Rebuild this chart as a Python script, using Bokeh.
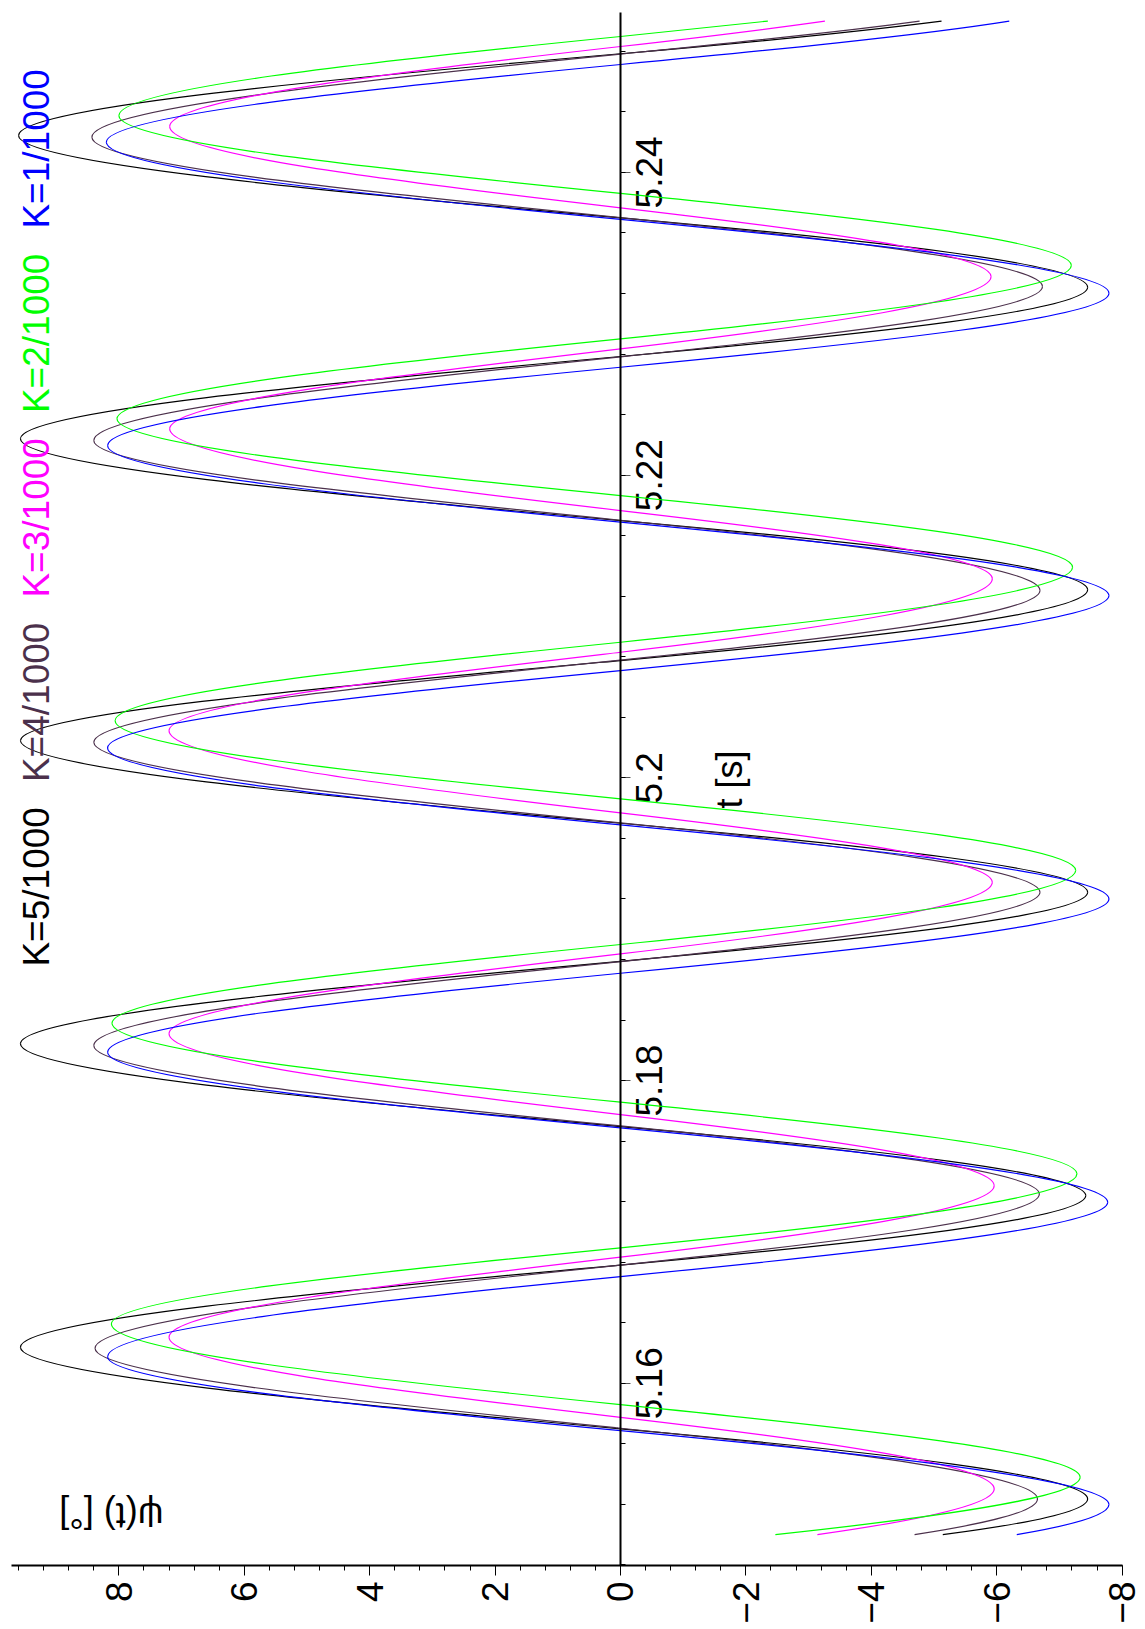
import math
from bokeh.plotting import figure
from bokeh.models import Range1d, LinearAxis, FixedTicker
from bokeh.core.properties import value
from bokeh.embed import file_html
from bokeh.resources import INLINE

# ---------------- data ----------------
T_START = 5.15
T_END = 5.25

series_names = ["K=5/1000", "K=4/1000", "K=3/1000", "K=2/1000", "K=1/1000"]
series_colors = ["#000000", "#4B304B", "#FF00FF", "#00FF00", "#0000FF"]

# K=5/1000 (black)
k5_start = -5.14
k5_trough_t = [5.15236, 5.17240, 5.19244, 5.21242, 5.23242]
k5_trough = [-7.45, -7.42, -7.45, -7.45, -7.45]
k5_up_t = [5.15699, 5.17696, 5.19700, 5.21700, 5.23700]
k5_peak_t = [5.16238, 5.18243, 5.20246, 5.22240, 5.24244]
k5_peak = [9.57, 9.57, 9.57, 9.57, 9.60]
k5_down_t = [5.16781, 5.18788, 5.20775, 5.22784, 5.24784]
k5_end = -5.12

# K=4/1000 (dark purple)
k4_start = -4.69
k4_trough_t = [5.15236, 5.17251, 5.19244, 5.21238, 5.23246]
k4_trough = [-6.65, -6.68, -6.69, -6.69, -6.73]
k4_up_t = [5.15703, 5.17700, 5.19702, 5.21702, 5.23702]
k4_peak_t = [5.16231, 5.18231, 5.20235, 5.22229, 5.24233]
k4_peak = [8.38, 8.40, 8.40, 8.40, 8.43]
k4_down_t = [5.16781, 5.18786, 5.20778, 5.22782, 5.24782]
k4_end = -4.77

# K=3/1000 (magenta)
k3_start = -3.14
k3_trough_t = [5.15302, 5.17306, 5.19310, 5.21315, 5.23312]
k3_trough = [-5.96, -5.96, -5.93, -5.93, -5.91]
k3_up_t = [5.15775, 5.17775, 5.19769, 5.21766, 5.23766]
k3_peak_t = [5.16304, 5.18309, 5.20312, 5.22306, 5.24303]
k3_peak = [7.20, 7.20, 7.20, 7.19, 7.19]
k3_down_t = [5.16833, 5.18837, 5.20830, 5.22834, 5.24832]
k3_end = -3.26

# K=2/1000 (green)
k2_start = -2.47
k2_trough_t = [5.15379, 5.17384, 5.19388, 5.21391, 5.23385]
k2_trough = [-7.33, -7.28, -7.26, -7.21, -7.19]
k2_up_t = [5.15859, 5.17857, 5.19861, 5.21865, 5.23862]
k2_peak_t = [5.16392, 5.18379, 5.20378, 5.22372, 5.24376]
k2_peak = [8.12, 8.11, 8.06, 8.03, 8.00]
k2_down_t = [5.16895, 5.18899, 5.20896, 5.22900, 5.24898]
k2_end = -2.35

# K=1/1000 (blue)
k1_start = -6.32
k1_trough_t = [5.15199, 5.17196, 5.19200, 5.21204, 5.23202]
k1_trough = [-7.79, -7.77, -7.79, -7.79, -7.79]
k1_up_t = [5.15687, 5.17687, 5.19689, 5.21690, 5.23690]
k1_peak_t = [5.16176, 5.18187, 5.20198, 5.22196, 5.24200]
k1_peak = [8.18, 8.18, 8.18, 8.18, 8.20]
k1_down_t = [5.16705, 5.18709, 5.20709, 5.22713, 5.24713]
k1_end = -6.20

psi_ticks = [8, 6, 4, 2, 0, -2, -4, -6, -8]
psi_tick_labels = ["8", "6", "4", "2", "0", "\u22122", "\u22124", "\u22126", "\u22128"]
t_ticks = [5.16, 5.18, 5.2, 5.22, 5.24]
t_tick_labels = ["5.16", "5.18", "5.2", "5.22", "5.24"]

curves = [
    (k5_start, k5_trough_t, k5_trough, k5_up_t, k5_peak_t, k5_peak, k5_down_t, k5_end),
    (k4_start, k4_trough_t, k4_trough, k4_up_t, k4_peak_t, k4_peak, k4_down_t, k4_end),
    (k3_start, k3_trough_t, k3_trough, k3_up_t, k3_peak_t, k3_peak, k3_down_t, k3_end),
    (k2_start, k2_trough_t, k2_trough, k2_up_t, k2_peak_t, k2_peak, k2_down_t, k2_end),
    (k1_start, k1_trough_t, k1_trough, k1_up_t, k1_peak_t, k1_peak, k1_down_t, k1_end),
]

FONT = "Liberation Sans"


def smooth_segments(start, tr_t, tr, up_t, pk_t, pk, dn_t, end):
    """Cubic Hermite (as Bezier) segments through the read key points."""
    ts = [T_START]
    ps = [start]
    kinds = ["s"]
    for i in range(len(tr_t)):
        ts += [tr_t[i], up_t[i], pk_t[i], dn_t[i]]
        ps += [tr[i], 0.0, pk[i], 0.0]
        kinds += ["e", "z", "e", "z"]
    ts.append(T_END)
    ps.append(end)
    kinds.append("end")
    n = len(ts)
    m = [0.0] * n
    for i in range(n):
        k = kinds[i]
        if k == "e":
            m[i] = 0.0
        elif k == "z":
            if i + 1 < n and kinds[i + 1] == "e":
                m[i] = (math.pi / 2) * (ps[i + 1] - ps[i - 1]) / (ts[i + 1] - ts[i - 1])
            else:
                m[i] = (math.pi / 2) * (0.0 - ps[i - 1]) / (ts[i] - ts[i - 1])
        elif k == "s":
            a = ps[1]
            r = max(-1.0, min(1.0, ps[0] / a))
            phi = math.asin(r)
            w = (math.pi / 2 - phi) / (ts[1] - ts[0])
            m[i] = a * w * math.cos(phi)
        else:
            a = ps[i - 4]  # last trough
            r = max(-1.0, min(1.0, ps[i] / a))
            phi = math.asin(r)
            w = phi / (ts[i] - ts[i - 1])
            m[i] = a * w * math.cos(phi)
    seg = dict(x0=[], y0=[], x1=[], y1=[], cx0=[], cy0=[], cx1=[], cy1=[])
    for i in range(n - 1):
        d = ts[i + 1] - ts[i]
        seg["y0"].append(ts[i]); seg["x0"].append(ps[i])
        seg["y1"].append(ts[i + 1]); seg["x1"].append(ps[i + 1])
        seg["cy0"].append(ts[i] + d / 3); seg["cx0"].append(ps[i] + m[i] * d / 3)
        seg["cy1"].append(ts[i + 1] - d / 3); seg["cx1"].append(ps[i + 1] - m[i + 1] * d / 3)
    return seg


# ---------------- figure ----------------
p = figure(width=1145, height=1629,
           x_range=Range1d(9.888, -8.373), y_range=Range1d(5.14796, 5.25136),
           output_backend="svg", toolbar_location=None,
           x_axis_location=None, y_axis_location=None,
           min_border_left=0, min_border_right=0, min_border_top=0, min_border_bottom=64)
p.outline_line_color = None
p.background_fill_color = "white"
p.border_fill_color = "white"
p.xgrid.grid_line_color = None
p.ygrid.grid_line_color = None
p.xgrid.visible = False
p.ygrid.visible = False

# bottom (psi) axis
psi_minor = [round(-8 + 0.4 * i, 2) for i in range(0, 45)]
xa = LinearAxis(ticker=FixedTicker(ticks=psi_ticks, minor_ticks=psi_minor),
                bounds=(-8.0, 9.71),
                major_label_overrides={float(v): lab for v, lab in zip(psi_ticks, psi_tick_labels)},
                major_label_orientation=math.pi / 2,
                major_label_text_font_size="37px", major_label_text_font=FONT,
                major_label_text_color="black",
                major_tick_out=10, major_tick_in=0, minor_tick_out=5, minor_tick_in=0,
                major_label_standoff=6, axis_line_width=2, axis_line_color="black",
                major_tick_line_color="black", minor_tick_line_color="black")
p.add_layout(xa, "below")

# vertical (t) axis through psi = 0 (labels drawn as text below, centred on ticks)
t_minor = [round(5.148 + 0.004 * i, 3) for i in range(0, 26)]
ya = LinearAxis(fixed_location=0, ticker=FixedTicker(ticks=t_ticks, minor_ticks=t_minor),
                bounds=(5.14796, 5.2506),
                major_label_text_color=None, major_label_text_font_size="1px",
                major_tick_out=10, major_tick_in=0, minor_tick_out=5, minor_tick_in=0,
                axis_line_width=2, axis_line_color="black",
                major_tick_line_color="#555555", minor_tick_line_color="black")
p.add_layout(ya, "right")

p.text(x=[0] * len(t_ticks), y=t_ticks, text=t_tick_labels, x_offset=29,
       angle=math.pi / 2, text_align="center", text_baseline="alphabetic",
       text_color="black", text_font=value(FONT), text_font_size="37px")

# curves
for (args, color) in zip(curves, series_colors):
    seg = smooth_segments(*args)
    p.bezier(x0=seg["x0"], y0=seg["y0"], x1=seg["x1"], y1=seg["y1"],
             cx0=seg["cx0"], cy0=seg["cy0"], cx1=seg["cx1"], cy1=seg["cy1"],
             line_color=color, line_width=1.2)

# legend: colored rotated text line
legend_t0 = 5.18753
legend_step = 0.01219
for i, (name, color) in enumerate(zip(series_names, series_colors)):
    p.text(x=[9.31], y=[legend_t0 + i * legend_step], text=[name],
           angle=math.pi / 2, text_align="left", text_baseline="alphabetic",
           text_color=color, text_font=value(FONT), text_font_size="37px")

# axis titles
p.text(x=[-1.74], y=[5.19989], text=["t [s]"], angle=math.pi / 2,
       text_align="center", text_baseline="alphabetic",
       text_color="black", text_font=value(FONT), text_font_size="36px")
p.text(x=[8.12], y=[5.15125], text=["\u03c8(t) [\u00b0]"], angle=math.pi,
       text_align="center", text_baseline="alphabetic",
       text_color="black", text_font=value(FONT), text_font_size="36px")

open("out.html", "w").write(file_html(p, INLINE))
